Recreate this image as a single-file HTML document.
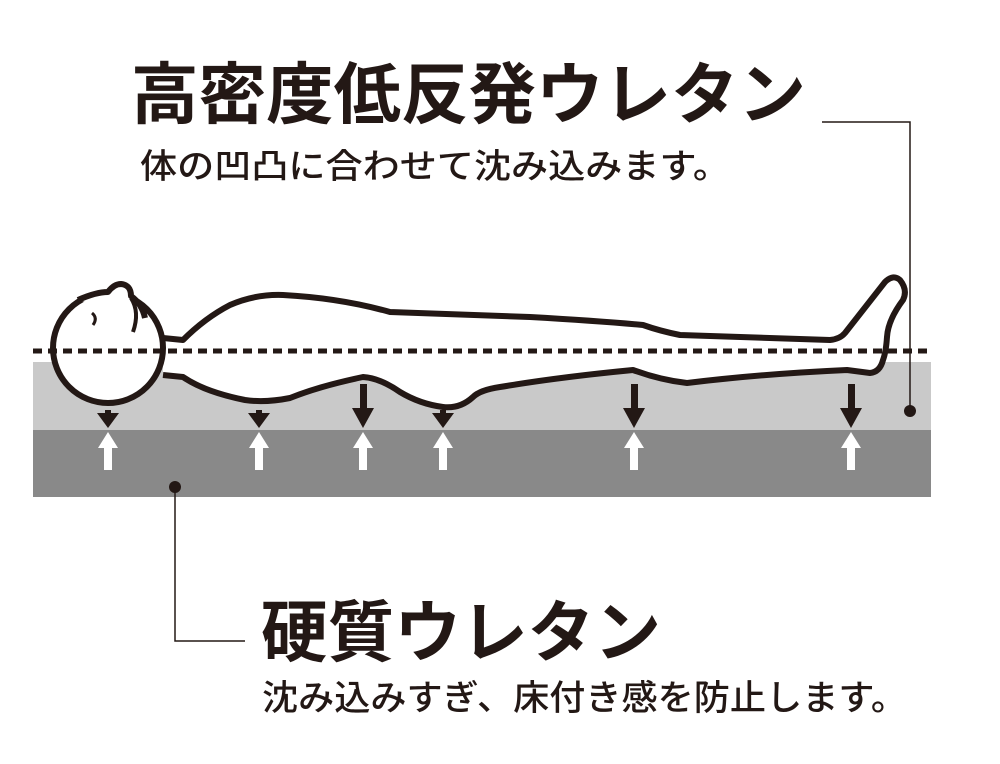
<!DOCTYPE html>
<html><head><meta charset="utf-8"><style>
html,body{margin:0;padding:0;background:#fff}
svg{display:block}
text{font-family:"Liberation Sans","Noto Sans CJK JP",sans-serif;fill:#231815}
</style></head><body>
<svg width="1000" height="764" viewBox="0 0 1000 764" xmlns="http://www.w3.org/2000/svg">
<rect x="0" y="0" width="1000" height="764" fill="#fff"/>
<rect x="33" y="362" width="898" height="68" fill="#c9c9c9"/>
<rect x="33" y="430" width="898" height="67" fill="#898989"/>
<!-- body -->
<path d="M163,338 L183,340 Q205,318 230,305 Q255,294 283,295 Q340,298 390,312 L530,317 Q600,321 643,325 Q660,331 680,335 L830,340 Q840,339 845,333 L885,282 Q893,274 900,280 Q908,290 903,300 Q888,320 887,337 Q886,352 883,360 Q880,372 870,373 L847,370 Q760,374 687,383 Q660,380 633,370 Q560,377 500,387 Q480,390 473,397 Q460,409 443,407 Q420,404 400,392 Q380,378 363,377 Q320,386 290,398 Q265,403 245,400 Q205,392 183,377 L163,375" fill="#fff" stroke="#231815" stroke-width="6" stroke-linejoin="round"/>
<!-- head -->
<circle cx="108" cy="348" r="55" fill="#fff" stroke="#231815" stroke-width="6"/>
<path d="M78,300 Q96,292 108,292 Q114,284 121,284 Q131,285 131,296 Q142,304 145,318" fill="#fff" stroke="#231815" stroke-width="6" stroke-linejoin="round"/>
<path d="M131,298 Q140,312 133,332" fill="none" stroke="#231815" stroke-width="4"/>
<path d="M92,313 Q98,318 93,325" fill="none" stroke="#231815" stroke-width="3"/>
<line x1="33" y1="351" x2="928" y2="351" stroke="#231815" stroke-width="5" stroke-dasharray="9,6"/>
<g fill="#231815">
<rect x="105" y="410" width="6" height="4"/><polygon points="97,413 119,413 108,428"/>
<rect x="256" y="410" width="6" height="4"/><polygon points="248,413 270,413 259,428"/>
<rect x="440" y="410" width="6" height="4"/><polygon points="432,413 454,413 443,428"/>
<rect x="360" y="384" width="7" height="28"/><polygon points="352,408 374,408 363,428"/>
<rect x="631" y="384" width="7" height="28"/><polygon points="623,408 645,408 634,428"/>
<rect x="848" y="384" width="7" height="28"/><polygon points="840,408 862,408 851,428"/>
</g>
<g fill="#fff">
<polygon points="108,432 98,448 104,448 104,470 112,470 112,448 118,448"/>
<polygon points="259,432 249,448 255,448 255,470 263,470 263,448 269,448"/>
<polygon points="363,432 353,448 359,448 359,470 367,470 367,448 373,448"/>
<polygon points="443,432 433,448 439,448 439,470 447,470 447,448 453,448"/>
<polygon points="634,432 624,448 630,448 630,470 638,470 638,448 644,448"/>
<polygon points="851,432 841,448 847,448 847,470 855,470 855,448 861,448"/>
</g>
<polyline points="822,122 910,122 910,410" fill="none" stroke="#231815" stroke-width="1.5"/>
<circle cx="910" cy="411" r="6" fill="#231815"/>
<polyline points="175,487 175,641 245,641" fill="none" stroke="#231815" stroke-width="1.5"/>
<circle cx="175" cy="487" r="6" fill="#231815"/>
<text x="131" y="118" font-size="67" font-weight="bold" textLength="675" lengthAdjust="spacingAndGlyphs">高密度低反発ウレタン</text>
<text x="140" y="178" font-size="34" font-weight="500" textLength="590" lengthAdjust="spacingAndGlyphs">体の凹凸に合わせて沈み込みます。</text>
<text x="261" y="656" font-size="67" font-weight="bold" textLength="400" lengthAdjust="spacingAndGlyphs">硬質ウレタン</text>
<text x="262" y="710" font-size="35" font-weight="500" textLength="645" lengthAdjust="spacingAndGlyphs">沈み込みすぎ、床付き感を防止します。</text>
</svg>
</body></html>
